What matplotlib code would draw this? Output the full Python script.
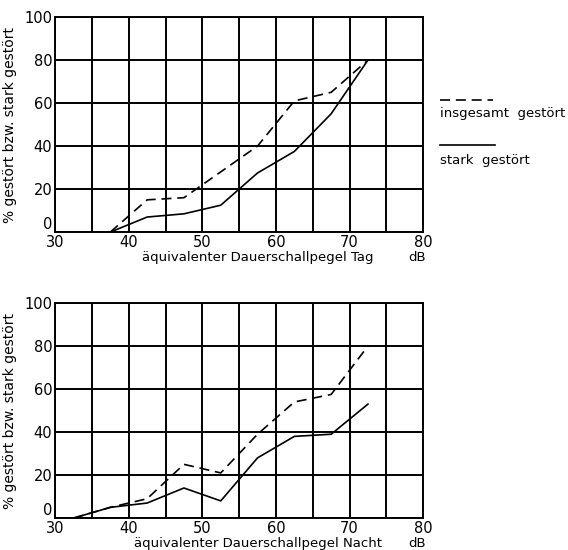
import matplotlib.pyplot as plt

# Klassenmitten (dB) und Anteile (%)
pegel_tag = [37.5, 42.5, 47.5, 52.5, 57.5, 62.5, 67.5, 72.5]
insgesamt_tag = [0, 15, 16, 28, 40, 61, 65, 80]
stark_tag = [0, 7, 8.5, 12.5, 27.5, 37.5, 55, 80]

pegel_nacht = [32.5, 37.5, 42.5, 47.5, 52.5, 57.5, 62.5, 67.5, 72.5]
insgesamt_nacht = [0, 5, 9, 25, 21, 39, 54, 57.5, 80]
stark_nacht = [0, 5, 7, 14, 8, 28, 38, 39, 53]

xticks = [30, 40, 50, 60, 70, 80]
yticks = [0, 20, 40, 60, 80, 100]

plt.rcParams['font.family'] = ['DejaVu Sans']
fig = plt.figure(figsize=(5.68, 5.5), dpi=100)

dash = (6, 3.5)


def panel(ax, x, ins, stark, label):
    ax.plot(x, ins, color="k", lw=1.2, dashes=dash)
    ax.plot(x, stark, color="k", lw=1.2)
    ax.set_xlim(30, 80)
    ax.set_ylim(0, 100)
    ax.set_xticks(range(30, 81, 5))
    ax.set_xticklabels([str(t) if t in xticks else "" for t in range(30, 81, 5)])
    ax.set_yticks(yticks)
    ax.tick_params(length=0, labelsize=10.5, pad=2)
    ax.get_yticklabels()[0].set_va("bottom")  # "0" etwas angehoben
    ax.grid(True, color="k", lw=1.4)
    for s in ax.spines.values():
        s.set_linewidth(1.4)
    ax.set_ylabel("% gestört bzw. stark gestört", fontsize=10, labelpad=5)
    ax.text(0.55, -0.09, label, transform=ax.transAxes, fontsize=9.5,
            ha="center", va="top")
    ax.text(79.2, -0.09, "dB", transform=ax.get_xaxis_transform(),
            fontsize=9.5, ha="center", va="top")


ax1 = fig.add_axes([0.097, 0.578, 0.648, 0.391])
panel(ax1, pegel_tag, insgesamt_tag, stark_tag,
      "äquivalenter Dauerschallpegel Tag")

ax2 = fig.add_axes([0.097, 0.058, 0.648, 0.391])
panel(ax2, pegel_nacht, insgesamt_nacht, stark_nacht,
      "äquivalenter Dauerschallpegel Nacht")

# Legende rechts neben dem oberen Diagramm
fig.add_artist(plt.Line2D([0.775, 0.868], [0.818, 0.818], color="k", lw=1.2,
                          dashes=dash))
fig.text(0.775, 0.793, "insgesamt  gestört", fontsize=9.5, va="center")
fig.add_artist(plt.Line2D([0.775, 0.872], [0.736, 0.736], color="k", lw=1.2))
fig.text(0.775, 0.709, "stark  gestört", fontsize=9.5, va="center")

fig.savefig("out.png", dpi=100)
